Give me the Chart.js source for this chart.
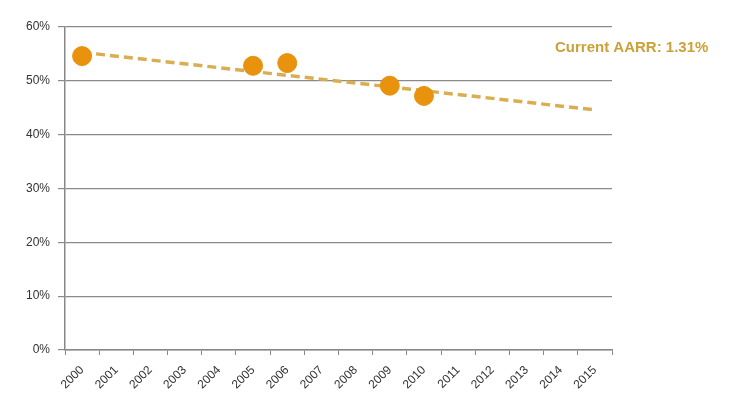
<!DOCTYPE html>
<html>
<head>
<meta charset="utf-8">
<script src="https://cdn.jsdelivr.net/npm/chart.js@4/dist/chart.umd.min.js"></script>
<style>
  html, body { margin: 0; padding: 0; background: #fff; }
  #wrap { width: 740px; height: 406px; }
</style>
</head>
<body>
<div id="wrap"><canvas id="c" width="740" height="406"></canvas></div>
<script>
// Years on the category axis
const years = ['2000','2001','2002','2003','2004','2005','2006','2007','2008','2009','2010','2011','2012','2013','2014','2015'];
// Observed rates (%), null where no survey year
const observed = [54.6, null, null, null, null, 52.8, 53.3, null, null, 49.1, 47.2, null, null, null, null, null];
// Linear trend end points (%)
const trend = [55.3, null, null, null, null, null, null, null, null, null, null, null, null, null, null, 44.6];
const yTicks = [0, 10, 20, 30, 40, 50, 60];
const aarrLabel = 'Current AARR: 1.31%';

const labelPlugin = {
  id: 'aarrLabel',
  afterDraw(chart) {
    const ctx = chart.ctx;
    const y = chart.scales.y;
    ctx.save();
    ctx.font = 'bold 15px "Liberation Sans", Arial, sans-serif';
    ctx.fillStyle = '#C9A23A';
    ctx.textBaseline = 'middle';
    ctx.fillText(aarrLabel, 555, y.getPixelForValue(56.1));
    ctx.restore();
  }
};

new Chart(document.getElementById('c'), {
  type: 'line',
  data: {
    labels: years,
    datasets: [
      {
        label: 'Trend',
        data: trend,
        spanGaps: true,
        borderColor: '#D9AE52',
        borderWidth: 3.5,
        borderDash: [9, 5],
        pointRadius: 0,
        fill: false,
        order: 2
      },
      {
        label: 'Observed',
        data: observed,
        showLine: false,
        pointRadius: 9.5,
        pointBackgroundColor: '#E8920E',
        pointBorderColor: '#E8920E',
        order: 1
      }
    ]
  },
  options: {
    responsive: false,
    animation: false,
    layout: { padding: { top: 27, right: 128, left: 0, bottom: 0 } },
    plugins: { legend: { display: false }, tooltip: { enabled: false } },
    scales: {
      x: {
        offset: true,
        grid: { offset: true, drawOnChartArea: false, color: '#888', tickLength: 5 },
        border: { color: '#888', width: 1.5 },
        ticks: {
          color: '#333',
          font: { size: 12, family: '"Liberation Sans", Arial, sans-serif' },
          maxRotation: 45, minRotation: 45, autoSkip: false, padding: 8
        },
        afterFit(s) { s.height = 56; }
      },
      y: {
        min: 0, max: 60,
        afterBuildTicks(s) { s.ticks = yTicks.map(v => ({ value: v })); },
        grid: { color: '#8a8a8a', lineWidth: 1.2, tickLength: 7 },
        border: { color: '#888', width: 1.5 },
        ticks: {
          color: '#333',
          font: { size: 12, family: '"Liberation Sans", Arial, sans-serif' },
          callback: v => v + '%', padding: 8
        },
        afterFit(s) { s.width = 65; }
      }
    }
  },
  plugins: [labelPlugin]
});
</script>
</body>
</html>
